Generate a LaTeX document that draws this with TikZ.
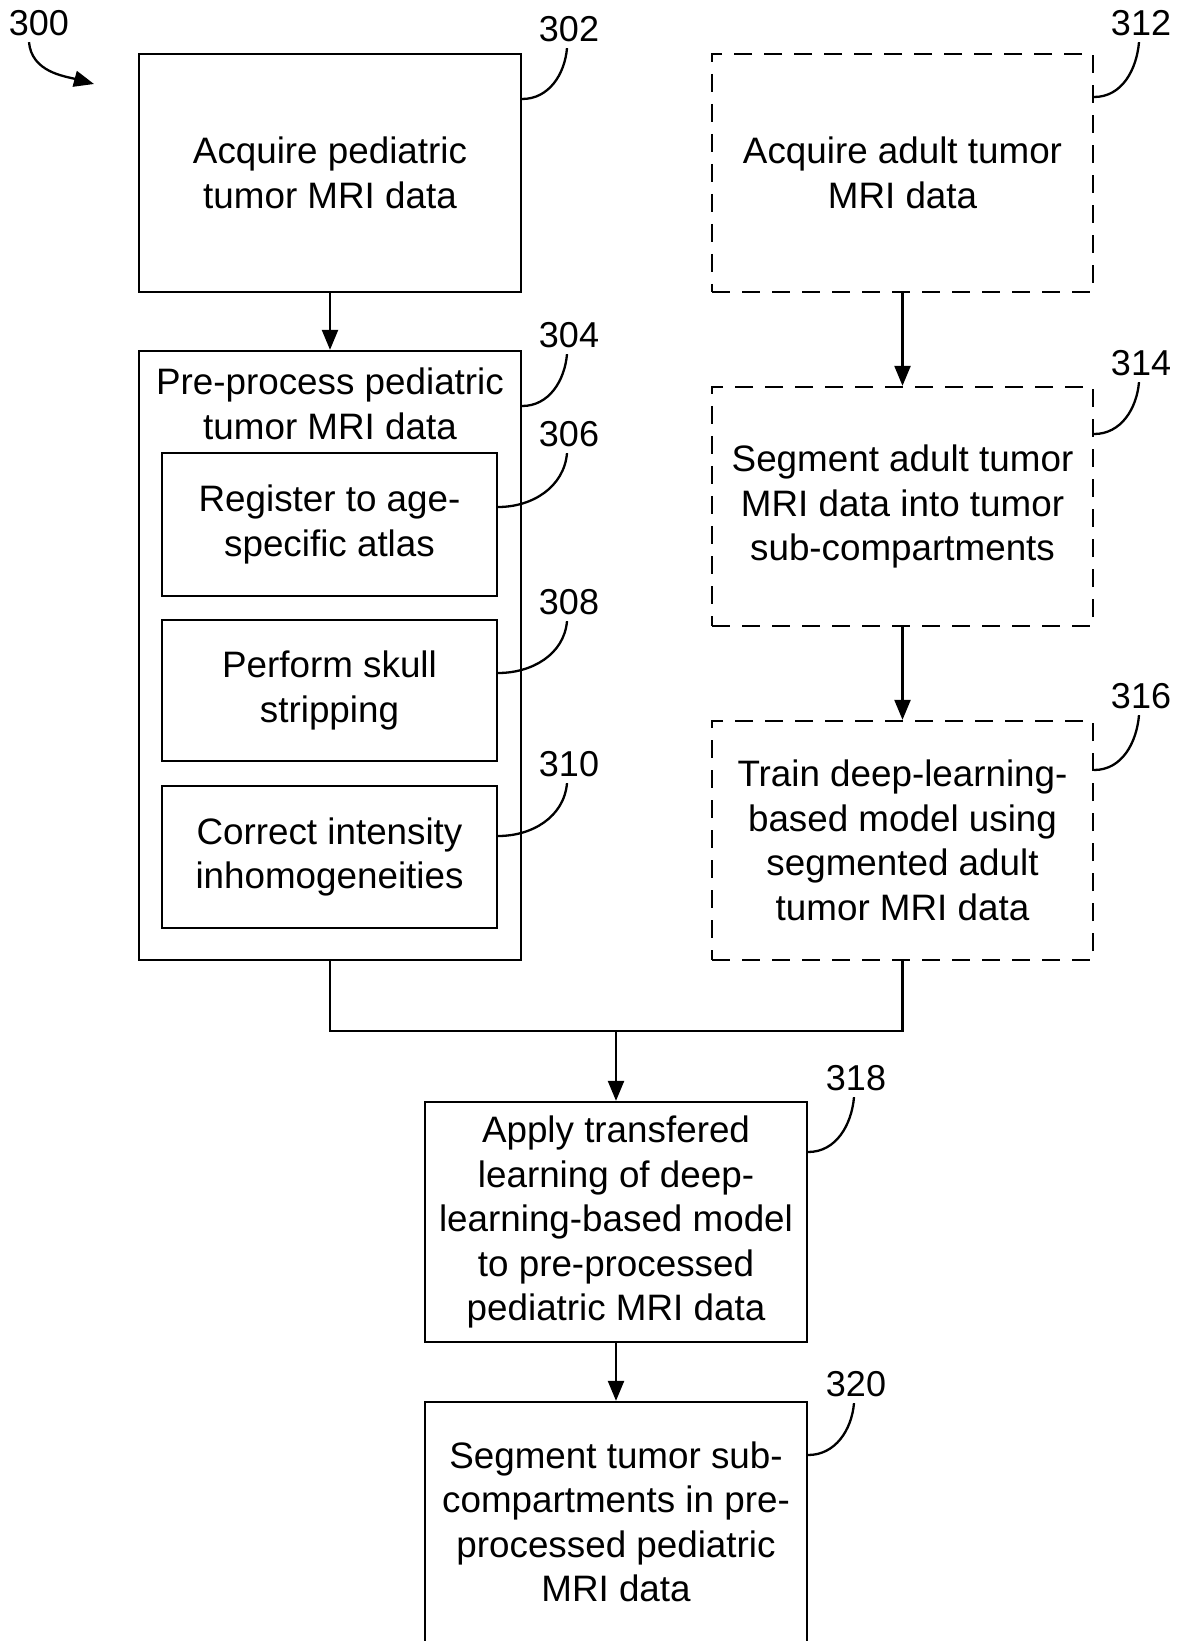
\documentclass[tikz,border=0pt]{standalone}
\usepackage{fontspec}
\setmainfont{Liberation Sans}
\usetikzlibrary{arrows.meta}
\begin{document}
\begin{tikzpicture}[x=0.5pt,y=-0.5pt,
  box/.style={draw, line width=1.15pt, inner sep=0pt, align=center,
    font=\fontsize{18.4}{22.25}\selectfont},
  dbox/.style={box, dash pattern=on 9pt off 6pt},
  num/.style={font=\fontsize{18}{20}\selectfont, inner sep=0pt},
  arr/.style={line width=1.15pt, -{Triangle[length=10pt,width=8pt]}},
  lead/.style={line width=1.15pt},
  conn/.style={line width=1.15pt},
]
\useasboundingbox (0,0) rectangle (1181,1641);

% left column
\node[box, minimum width=191pt, minimum height=119pt] (p302) at (330,173)
  {Acquire pediatric\\tumor MRI data};
\node[box, minimum width=191pt, minimum height=304.5pt] (p304) at (330,655.5) {};
\node[align=center, inner sep=0pt, font=\fontsize{18.4}{22.25}\selectfont] (t304) at (330,404)
  {Pre-process pediatric\\tumor MRI data};
\node[box, minimum width=167.5pt, minimum height=71.5pt] (p306) at (329.5,524.5)
  {Register to age-\\specific atlas};
\node[box, minimum width=167.5pt, minimum height=70.5pt] (p308) at (329.5,690.5)
  {Perform skull\\stripping};
\node[box, minimum width=167.5pt, minimum height=71pt] (p310) at (329.5,857)
  {Correct intensity\\inhomogeneities};

% right column
\node[dbox, minimum width=190.5pt, minimum height=119pt] (p312) at (902.5,173)
  {Acquire adult tumor\\MRI data};
\node[dbox, minimum width=190.5pt, minimum height=119.5pt] (p314) at (902.5,506.5)
  {Segment adult tumor\\MRI data into tumor\\sub-compartments};
\node[dbox, minimum width=190.5pt, minimum height=119.5pt] (p316) at (902.5,840.5)
  {Train deep-learning-\\based model using\\segmented adult\\tumor MRI data};

% bottom
\node[box, minimum width=191pt, minimum height=120pt] (p318) at (616,1222)
  {Apply transfered\\learning of deep-\\learning-based model\\to pre-processed\\pediatric MRI data};
\node[box, minimum width=191pt, minimum height=120pt] (p320) at (616,1522)
  {Segment tumor sub-\\compartments in pre-\\processed pediatric\\MRI data};

% connectors
\draw[arr] (p302) -- (p304);
\draw[arr] (p312) -- (p314);
\draw[arr] (p314) -- (p316);
\coordinate (join) at (616,1031);
\draw[conn] (p304.south) |- (join) -| (p316.south);
\draw[arr] (join) -- (p318.north);
\draw[arr] (p318) -- (p320);

% reference numerals
\node[num] (n300) at (39,23) {300};
\coordinate (a300) at (94,84);
\draw[arr] ([xshift=-5pt,yshift=-3pt]n300.south) to[out=-85,in=165] (a300);

\node[num] (n302) at (569,29) {302};
\node[num] (n304) at (569,335) {304};
\node[num] (n306) at (569,434) {306};
\node[num] (n308) at (569,602) {308};
\node[num] (n310) at (569,764) {310};
\node[num] (n312) at (1141,23) {312};
\node[num] (n314) at (1141,363) {314};
\node[num] (n316) at (1141,696) {316};
\node[num] (n318) at (856,1078) {318};
\node[num] (n320) at (856,1384) {320};

\draw[lead] (p302.east |- 0,99) to[out=0,in=-95] ([xshift=-1pt,yshift=-3pt]n302.south);
\draw[lead] (p304.east |- 0,406) to[out=0,in=-95] ([xshift=-1pt,yshift=-3pt]n304.south);
\draw[lead] (p306.east |- 0,507) to[out=0,in=-95] ([xshift=-1pt,yshift=-3pt]n306.south);
\draw[lead] (p308.east |- 0,673) to[out=0,in=-95] ([xshift=-1pt,yshift=-3pt]n308.south);
\draw[lead] (p310.east |- 0,836) to[out=0,in=-95] ([xshift=-1pt,yshift=-3pt]n310.south);
\draw[lead] (p312.east |- 0,97) to[out=0,in=-95] ([xshift=-1pt,yshift=-3pt]n312.south);
\draw[lead] (p314.east |- 0,434) to[out=0,in=-95] ([xshift=-1pt,yshift=-3pt]n314.south);
\draw[lead] (p316.east |- 0,770) to[out=0,in=-95] ([xshift=-1pt,yshift=-3pt]n316.south);
\draw[lead] (p318.east |- 0,1152) to[out=0,in=-95] ([xshift=-1pt,yshift=-3pt]n318.south);
\draw[lead] (p320.east |- 0,1455) to[out=0,in=-95] ([xshift=-1pt,yshift=-3pt]n320.south);
\end{tikzpicture}
\end{document}
